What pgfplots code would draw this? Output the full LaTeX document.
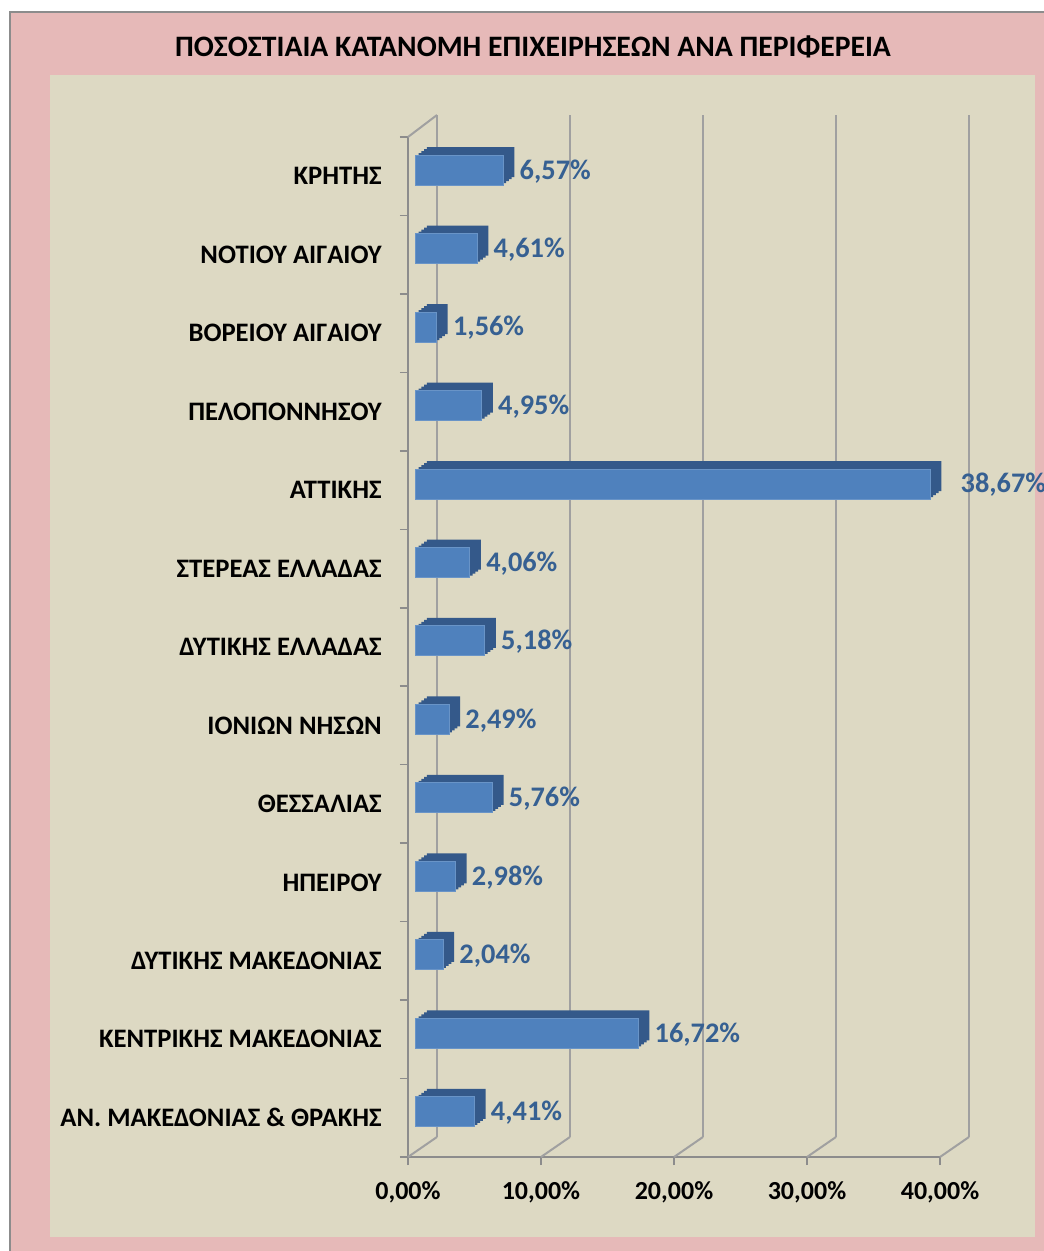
\documentclass[border=0pt]{standalone}
\usepackage{fontspec}
\setmainfont{Carlito}
\usepackage{pgfplots}
\usepackage{pgfplotstable}
\pgfplotsset{compat=1.18}
\newdimen\px \px=0.6pt
\definecolor{pinkbg}{HTML}{E6B9B8}
\definecolor{beige}{HTML}{DDD9C3}
\definecolor{barfront}{HTML}{4F81BD}
\definecolor{barside}{HTML}{34598A}
\definecolor{lbl}{HTML}{366092}
\definecolor{gridc}{HTML}{A0A0A0}
\definecolor{axisc}{HTML}{8C8C8C}
\pgfplotstableread{
y v
0 4.41
1 16.72
2 2.04
3 2.98
4 5.76
5 2.49
6 5.18
7 4.06
8 38.67
9 4.95
10 1.56
11 4.61
12 6.57
}\data
\begin{document}
\begin{tikzpicture}
\useasboundingbox (-408\px,-94\px) rectangle (635\px,1157\px);
\fill[white] (-408\px,-94\px) rectangle (635\px,1157\px);
\fill[pinkbg] (-398\px,-94\px) rectangle (640\px,1145\px);
\draw[axisc, line width=1.5\px] (-398\px,-94\px) -- (-398\px,1145\px) -- (640\px,1145\px);
\fill[beige] (-358\px,-80\px) rectangle (627\px,1082\px);
\node[font=\fontsize{17.8}{20}\selectfont\bfseries] at (125\px,1110\px) {ΠΟΣΟΣΤΙΑΙΑ ΚΑΤΑΝΟΜΗ ΕΠΙΧΕΙΡΗΣΕΩΝ ΑΝΑ ΠΕΡΙΦΕΡΕΙΑ};
\begin{axis}[
 at={(0,0)}, anchor=south west, scale only axis,
 width=532\px, height=1020\px,
 xmin=0, xmax=40, ymin=-0.5, ymax=12.5,
 clip=false,
 axis x line*=bottom, axis y line*=left,
 axis line style={draw=axisc, line width=2\px},
 tick align=outside, major tick length=8\px,
 tick style={draw=axisc, line width=1.5\px},
 /pgf/number format/assume math mode=true,
 xtick={0,10,20,30,40},
 xticklabels={{0,00\%},{10,00\%},{20,00\%},{30,00\%},{40,00\%}},
 ytick={-0.5,0.5,...,12.5},
 y tick label as interval,
 yticklabels={{ΑΝ. ΜΑΚΕΔΟΝΙΑΣ \& ΘΡΑΚΗΣ},{ΚΕΝΤΡΙΚΗΣ ΜΑΚΕΔΟΝΙΑΣ},{ΔΥΤΙΚΗΣ ΜΑΚΕΔΟΝΙΑΣ},{ΗΠΕΙΡΟΥ},{ΘΕΣΣΑΛΙΑΣ},{ΙΟΝΙΩΝ ΝΗΣΩΝ},{ΔΥΤΙΚΗΣ ΕΛΛΑΔΑΣ},{ΣΤΕΡΕΑΣ ΕΛΛΑΔΑΣ},{ΑΤΤΙΚΗΣ},{ΠΕΛΟΠΟΝΝΗΣΟΥ},{ΒΟΡΕΙΟΥ ΑΙΓΑΙΟΥ},{ΝΟΤΙΟΥ ΑΙΓΑΙΟΥ},{ΚΡΗΤΗΣ}},
 xticklabel style={font=\fontsize{15.6}{18}\selectfont\bfseries, inner sep=0pt, yshift=-16\px},
 yticklabel style={font=\fontsize{16}{18}\selectfont\bfseries, inner sep=0pt, xshift=-18\px},
]
% back wall lines
\addplot[gridc, line width=2\px] coordinates {(2.18,-0.245) (2.18,12.78)};
\addplot[gridc, line width=2\px] coordinates {(12.18,-0.245) (12.18,12.78)};
\addplot[gridc, line width=2\px] coordinates {(22.18,-0.245) (22.18,12.78)};
\addplot[gridc, line width=2\px] coordinates {(32.18,-0.245) (32.18,12.78)};
\addplot[gridc, line width=2\px] coordinates {(42.18,-0.245) (42.18,12.78)};
% floor diagonals and wall top edge
\addplot[gridc, line width=2\px] coordinates {(0,-0.5) (2.18,-0.245)};
\addplot[gridc, line width=2\px] coordinates {(10,-0.5) (12.18,-0.245)};
\addplot[gridc, line width=2\px] coordinates {(20,-0.5) (22.18,-0.245)};
\addplot[gridc, line width=2\px] coordinates {(30,-0.5) (32.18,-0.245)};
\addplot[gridc, line width=2\px] coordinates {(40,-0.5) (42.18,-0.245)};
\addplot[gridc, line width=2\px] coordinates {(0,12.5) (2.18,12.78)};
% 3D bars: extrusion then front face
\addplot[xbar, bar width=30\px, fill=barside, draw=none, xshift=19\px, yshift=14\px] table[x=v,y=y]{\data};
\addplot[xbar, bar width=30\px, fill=barside, draw=none, xshift=16.25\px, yshift=12\px] table[x=v,y=y]{\data};
\addplot[xbar, bar width=30\px, fill=barside, draw=none, xshift=13.5\px, yshift=10\px] table[x=v,y=y]{\data};
\addplot[xbar, bar width=30\px, fill=barside, draw=none, xshift=10.75\px, yshift=8\px] table[x=v,y=y]{\data};
\addplot[xbar, bar width=30\px, fill=barfront, draw=barfront!85!white, line width=1\px, xshift=8\px, yshift=6\px] table[x=v,y=y]{\data};
% value labels
\addplot[xbar, bar width=0pt, draw=none, fill=none,
  nodes near coords={\pgfmathprintnumber[fixed, fixed zerofill, precision=2, use comma]{\pgfplotspointmeta}\%},
  every node near coord/.append style={font=\fontsize{17}{20}\selectfont\bfseries, text=lbl, inner sep=0pt, xshift=24\px, yshift=5\px}]
  coordinates {(4.41,0) (16.72,1) (2.04,2) (2.98,3) (5.76,4) (2.49,5) (5.18,6) (4.06,7) (4.95,9) (1.56,10) (4.61,11) (6.57,12)};
\addplot[xbar, bar width=0pt, draw=none, fill=none,
  nodes near coords={\pgfmathprintnumber[fixed, fixed zerofill, precision=2, use comma]{\pgfplotspointmeta}\%},
  every node near coord/.append style={font=\fontsize{17}{20}\selectfont\bfseries, text=lbl, inner sep=0pt, xshift=38\px, yshift=5\px}]
  coordinates {(38.67,8)};
\end{axis}
\end{tikzpicture}
\end{document}
